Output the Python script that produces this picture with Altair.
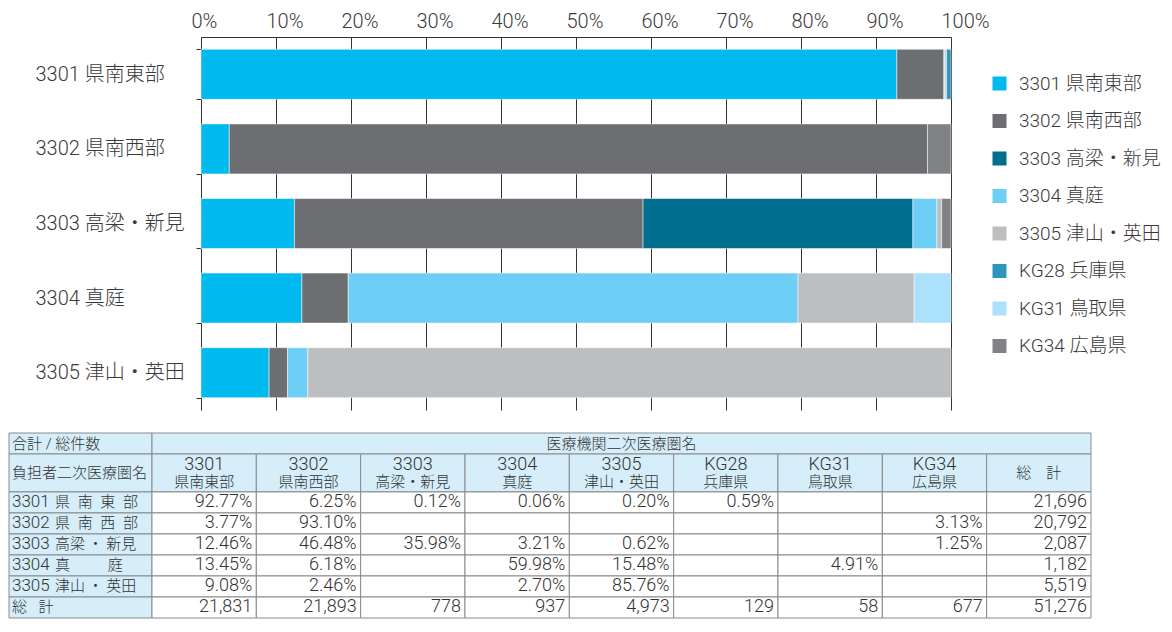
import altair as alt
import pandas as pd

# ---------------- data ----------------
regions = ["3301 県南東部", "3302 県南西部", "3303 高梁・新見", "3304 真庭", "3305 津山・英田"]
series = ["3301 県南東部", "3302 県南西部", "3303 高梁・新見", "3304 真庭", "3305 津山・英田",
          "KG28 兵庫県", "KG31 鳥取県", "KG34 広島県"]
series_colors = ["#00b9ef", "#6d6e71", "#006e8f", "#6dcff6", "#bcbec0", "#2e96bd", "#abe1fa", "#808285"]

share_3301 = [92.77, 6.25, 0.12, 0.06, 0.20, 0.59, None, None]
share_3302 = [3.77, 93.10, None, None, None, None, None, 3.13]
share_3303 = [12.46, 46.48, 35.98, 3.21, 0.62, None, None, 1.25]
share_3304 = [13.45, 6.18, None, 59.98, 15.48, None, 4.91, None]
share_3305 = [9.08, 2.46, None, 2.70, 85.76, None, None, None]
shares = [share_3301, share_3302, share_3303, share_3304, share_3305]

row_totals = [21696, 20792, 2087, 1182, 5519]
col_totals = [21831, 21893, 778, 937, 4973, 129, 58, 677]
grand_total = 51276

col_codes = ["3301", "3302", "3303", "3304", "3305", "KG28", "KG31", "KG34"]
col_names = ["県南東部", "県南西部", "高梁・新見", "真庭", "津山・英田", "兵庫県", "鳥取県", "広島県"]
row_codes = ["3301", "3302", "3303", "3304", "3305"]
row_names = ["県\u2002南\u2002東\u2002部", "県\u2002南\u2002西\u2002部", "高梁\u2009・\u2009新見",
             "真\u3000\u3000\u2002庭", "津山\u2009・\u2009英田"]
corner_label = "合計 / 総件数"
header_label = "医療機関二次医療圏名"
rowhead_label = "負担者二次医療圏名"
total_label_col = "総\u3000計"
total_label_row = "総\u2002\u2005計"

FONT = "Roboto, 'Noto Sans CJK JP', sans-serif"
TXT = "#3a3a3a"
TTXT = "#333333"
BLUE = "#d5eefa"

# ---------------- bar chart ----------------
bar_rows = []
for i, row in enumerate(shares):
    for j, v in enumerate(row):
        if v is not None:
            bar_rows.append({"region": regions[i], "series": series[j], "sidx": j, "share": v})
bar_df = pd.DataFrame(bar_rows)

PLOT_L = 193   # left edge of bar area inside the view
PLOT_R = 943

bars = alt.Chart(bar_df).mark_bar(stroke="white", strokeWidth=0.5).encode(
    x=alt.X("share:Q", stack="normalize", scale=alt.Scale(domain=[0, 1], range=[PLOT_L, PLOT_R]),
            axis=alt.Axis(orient="top", values=[i / 10 for i in range(11)], format=".0%", title=None,
                          labelFontSize=20, labelFont=FONT, labelFontWeight=300, labelColor=TXT,
                          labelAlign="left", labelOffset=-10, labelPadding=6, ticks=False,
                          domainColor="#333333", domainWidth=1, grid=True, gridColor="#333333",
                          gridWidth=1)),
    y=alt.Y("region:N", sort=regions, scale=alt.Scale(paddingInner=0.33, paddingOuter=0.165),
            axis=alt.Axis(title=None, offset=-PLOT_L, labelAlign="left", labelPadding=161,
                          labelFontSize=20, labelFont=FONT, labelFontWeight=300, labelColor=TXT,
                          labelBaseline="middle", labelLimit=300, tickBand="extent", tickSize=5,
                          tickColor="#333333", domainColor="#333333", grid=False)),
    color=alt.Color("series:N", sort=series, scale=alt.Scale(domain=series, range=series_colors),
                    legend=alt.Legend(title=None, orient="none", legendX=982, legendY=37,
                                      symbolType="square", symbolSize=196, symbolStrokeWidth=0,
                                      labelFontSize=19, labelFont=FONT, labelFontWeight=300,
                                      labelColor=TXT, labelOffset=10, rowPadding=17.5, padding=0,
                                      labelLimit=300)),
    order=alt.Order("sidx:Q"),
).properties(width=PLOT_R, height=373)

# ---------------- table ----------------
W0 = 1.3705
col_edges = [0.0, W0] + [W0 + k for k in range(1, 10)]
row_edges = [0.0, 1.0, 2.806] + [2.806 + k for k in range(1, 7)]

xs = alt.Scale(domain=[0, col_edges[-1]], range=[1, 1083])
ys = alt.Scale(domain=[0, row_edges[-1]], range=[1, 186])

cells = []
def add_cell(c0, c1, r, fill):
    cells.append({"x0": col_edges[c0], "x1": col_edges[c1], "y0": row_edges[r], "y1": row_edges[r + 1], "fill": fill})

add_cell(0, 1, 0, BLUE)
add_cell(1, 10, 0, BLUE)
for c in range(10):
    add_cell(c, c + 1, 1, BLUE)
for r in range(2, 8):
    add_cell(0, 1, r, BLUE)
    for c in range(1, 10):
        add_cell(c, c + 1, r, "white")
cell_df = pd.DataFrame(cells)

def rc(r):
    return (row_edges[r] + row_edges[r + 1]) / 2

cell_layer = alt.Chart(cell_df).mark_rect(stroke="#8a8a8a", strokeWidth=1).encode(
    x=alt.X("x0:Q", scale=xs, axis=None), x2="x1:Q",
    y=alt.Y("y0:Q", scale=ys, axis=None), y2="y1:Q",
    fill=alt.Fill("fill:N", scale=None),
)

def text_layer(df, size, align, dx=0, weight=300):
    return alt.Chart(pd.DataFrame(df)).mark_text(
        font=FONT, fontSize=size, fontWeight=weight, color=TTXT, align=align,
        baseline="middle", dx=dx).encode(
        x=alt.X("x:Q", scale=xs, axis=None), y=alt.Y("y:Q", scale=ys, axis=None), text="t:N")

left_small = [{"x": 0, "y": rc(0), "t": corner_label},
              {"x": 0, "y": rc(1), "t": rowhead_label},
              {"x": 0, "y": rc(7), "t": total_label_row}]
left_codes = [{"x": 0, "y": rc(2 + i), "t": row_codes[i]} for i in range(5)]
left_names = [{"x": 0.441, "y": rc(2 + i), "t": row_names[i]} for i in range(5)]
merged = [{"x": (col_edges[1] + col_edges[10]) / 2, "y": rc(0), "t": header_label}]
hdr_codes = [{"x": (col_edges[c + 1] + col_edges[c + 2]) / 2, "y": 1.5, "t": col_codes[c]} for c in range(8)]
hdr_names = [{"x": (col_edges[c + 1] + col_edges[c + 2]) / 2, "y": 2.32, "t": col_names[c]} for c in range(8)]
hdr_names.append({"x": (col_edges[9] + col_edges[10]) / 2, "y": rc(1), "t": total_label_col})

nums = []
for i, row in enumerate(shares):
    for j, v in enumerate(row):
        if v is not None:
            nums.append({"x": col_edges[j + 2], "y": rc(2 + i), "t": f"{v:.2f}%"})
    nums.append({"x": col_edges[10], "y": rc(2 + i), "t": f"{row_totals[i]:,}"})
for j, v in enumerate(col_totals):
    nums.append({"x": col_edges[j + 2], "y": rc(7), "t": f"{v:,}"})
nums.append({"x": col_edges[10], "y": rc(7), "t": f"{grand_total:,}"})

table = alt.layer(
    cell_layer,
    text_layer(left_small, 15, "left", dx=3),
    text_layer(left_codes, 17, "left", dx=3),
    text_layer(left_names, 15, "left"),
    text_layer(merged, 15, "center"),
    text_layer(hdr_codes, 18, "center"),
    text_layer(hdr_names, 15, "center"),
    text_layer(nums, 18, "right", dx=-4),
).properties(width=1084, height=187)

chart = alt.vconcat(bars, table, spacing=22).properties(
    padding={"left": 0, "top": 3, "right": 0, "bottom": 0}, background="white"
).configure_view(strokeWidth=0)

chart.save("out.html", embed_options={"renderer": "svg", "actions": False})
